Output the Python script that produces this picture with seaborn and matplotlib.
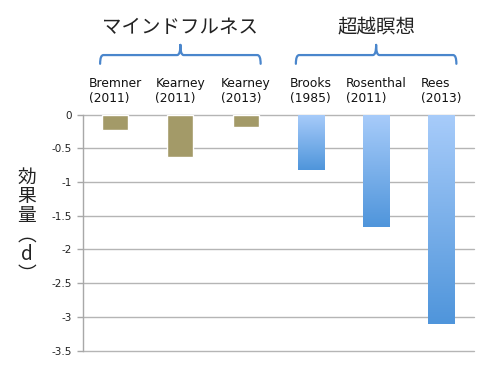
import numpy as np
import matplotlib
matplotlib.use("Agg")
import matplotlib.pyplot as plt
import matplotlib.transforms as mtransforms
from matplotlib.path import Path
from matplotlib.patches import PathPatch
from matplotlib.colors import LinearSegmentedColormap
import seaborn as sns

# ---- data ----
categories = ["Bremner\n(2011)", "Kearney\n(2011)", "Kearney\n(2013)",
              "Brooks\n(1985)", "Rosenthal\n(2011)", "Rees\n(2013)"]
values = [-0.23, -0.63, -0.19, -0.82, -1.67, -3.10]
groups = ["マインドフルネス", "マインドフルネス", "マインドフルネス",
          "超越瞑想", "超越瞑想", "超越瞑想"]
group_names = ["マインドフルネス", "超越瞑想"]
yticks = [0, -0.5, -1, -1.5, -2, -2.5, -3, -3.5]
ytick_labels = ["0", "-0.5", "-1", "-1.5", "-2", "-2.5", "-3", "-3.5"]
ylabel = "効\n果\n量\n︵\nd\n︶"

olive = "#A39A68"
blue_top = "#A8CCFA"
blue_bottom = "#4F95DB"
brace_color = "#4A86CC"

sns.set_theme(style="white")
plt.rcParams['font.family'] = ['DejaVu Sans', 'Noto Sans CJK JP']

fig = plt.figure(figsize=(5, 3.76), dpi=100)
ax = fig.add_axes([0.165, 0.0673, 0.783, 0.628])

palette = {group_names[0]: olive, group_names[1]: blue_bottom}
sns.barplot(x=categories, y=values, hue=groups, palette=palette, width=0.4,
            dodge=False, legend=False, ax=ax, saturation=1, zorder=3)

ax.set_ylim(-3.5, 0)
ax.set_xlim(-0.5, len(categories) - 0.5)
ax.set_yticks(yticks)
ax.set_yticklabels(ytick_labels, fontsize=7.5, color="#222222")
ax.yaxis.grid(True, color="#B5B5B5", linewidth=1.0, zorder=0)
ax.xaxis.grid(False)
for s in ["top", "right", "bottom"]:
    ax.spines[s].set_visible(False)
ax.spines["left"].set_color("#A8A8A8")
ax.spines["left"].set_linewidth(1.0)
ax.tick_params(axis="y", which="both", left=True, length=4, width=1,
               color="#A8A8A8", pad=4)

# category labels on top
ax.xaxis.tick_top()
ax.tick_params(axis="x", which="both", top=False, bottom=False, length=0, pad=7)
ax.set_xticks(range(len(categories)))
ax.set_xticklabels(categories, fontsize=8.8, color="#111111", linespacing=1.2)
for t in ax.get_xticklabels():
    t.set_multialignment("left")
ax.set_xlabel("")
ax.set_ylabel("")

# gradient fill for blue bars
cmap = LinearSegmentedColormap.from_list("bg", [blue_top, blue_bottom])
grad = np.linspace(0, 1, 256).reshape(-1, 1)
for patch, g in zip(ax.patches, groups):
    if g == group_names[1]:
        x0, y0 = patch.get_x(), patch.get_y()
        w, h = patch.get_width(), patch.get_height()
        ylo, yhi = min(y0, y0 + h), max(y0, y0 + h)
        im = ax.imshow(grad, cmap=cmap, aspect="auto",
                       extent=[x0, x0 + w, ylo, yhi], origin="upper", zorder=3)
        im.set_clip_path(patch)
        patch.set_facecolor("none")
        patch.set_edgecolor("none")
ax.set_xlim(-0.5, len(categories) - 0.5)
ax.set_ylim(-3.5, 0)
for gl in ax.get_ygridlines():
    gl.set_clip_on(False)

# braces and group titles
trans = mtransforms.blended_transform_factory(ax.transData, ax.transAxes)
y_end, y_h, y_peak = 1.215, 1.252, 1.295
dx = 0.05
for gname in group_names:
    idx = [i for i, g in enumerate(groups) if g == gname]
    xl, xr = idx[0] - 0.23, idx[-1] + 0.23
    xm = (idx[0] + idx[-1]) / 2
    codes = [Path.MOVETO, Path.CURVE3, Path.CURVE3,
             Path.LINETO, Path.CURVE3, Path.CURVE3,
             Path.MOVETO, Path.CURVE3, Path.CURVE3,
             Path.LINETO, Path.CURVE3, Path.CURVE3]
    verts = [(xl, y_end), (xl, y_h), (xl + dx, y_h),
             (xm - dx, y_h), (xm, y_h), (xm, y_peak),
             (xm, y_peak), (xm, y_h), (xm + dx, y_h),
             (xr - dx, y_h), (xr, y_h), (xr, y_end)]
    pp = PathPatch(Path(verts, codes), transform=trans, fill=False,
                   edgecolor=brace_color, linewidth=1.6, clip_on=False,
                   capstyle="round", joinstyle="round")
    ax.add_patch(pp)
    ax.text(xm, 1.37, gname, transform=trans, ha="center", va="center",
            fontsize=14, color="#222222",
            family=["Noto Sans CJK JP", "DejaVu Sans"])

# vertical y label
fig.text(0.054, 0.40, ylabel, ha="center", va="center", fontsize=13.5,
         color="#222222", linespacing=0.9,
         family=["Noto Sans CJK JP", "DejaVu Sans"])

fig.savefig("out.png", dpi=100, facecolor="white")
